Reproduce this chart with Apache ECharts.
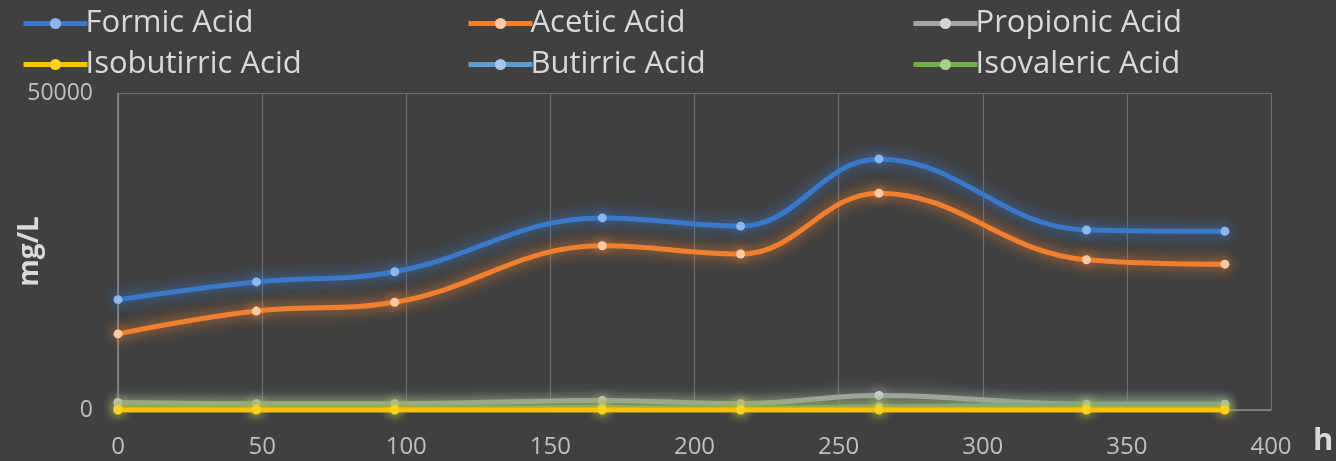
<!DOCTYPE html>
<html>
<head>
<meta charset="utf-8">
<script src="https://cdn.jsdelivr.net/npm/echarts@6/dist/echarts.min.js"></script>
<style>
  html, body { margin: 0; padding: 0; background: #404040; }
  #chart { width: 1336px; height: 461px; }
</style>
</head>
<body>
<div id="chart"></div>
<script>
// Sampling times (h)
const hours = [0, 48, 96, 168, 216, 264, 336, 384];

// Concentrations (mg/L)
const formicAcid      = [17400, 20200, 21800, 30300, 29000, 39600, 28400, 28200];
const aceticAcid      = [12000, 15600, 17000, 25900, 24600, 34200, 23700, 23000];
const propionicAcid   = [1200, 1000, 1000, 1500, 1000, 2300, 900, 900];
const isobutirricAcid = [0, 0, 0, 0, 0, 0, 0, 0];
const butirricAcid    = [300, 300, 300, 400, 300, 500, 800, 800];
const isovalericAcid  = [250, 200, 200, 200, 200, 200, 300, 300];

// Axis tick values
const xTicks = [0, 50, 100, 150, 200, 250, 300, 350, 400];
const yTicks = [0, 50000];

const seriesDefs = [
  { name: 'Formic Acid',      data: formicAcid,      color: '#3a78c9', marker: '#8db6ea', z: 2 },
  { name: 'Acetic Acid',      data: aceticAcid,      color: '#f0802f', marker: '#f9c9a3', z: 2 },
  { name: 'Propionic Acid',   data: propionicAcid,   color: '#a5a5a5', marker: '#d4d4d4', z: 3 },
  { name: 'Isobutirric Acid', data: isobutirricAcid, color: '#ffc000', marker: '#ffd21f', z: 6 },
  { name: 'Butirric Acid',    data: butirricAcid,    color: '#5b9bd5', marker: '#a5c8ea', z: 4 },
  { name: 'Isovaleric Acid',  data: isovalericAcid,  color: '#70ad47', marker: '#a9d18e', z: 5 }
];

const textColor = '#d9d9d9';
const fontFamily = '"Open Sans", "Noto Sans", sans-serif';

function legendColumn(left, names) {
  return {
    orient: 'vertical',
    left: left,
    top: -2,
    itemWidth: 64,
    itemHeight: 14,
    itemGap: 0,
    data: names,
    lineStyle: { width: 5 },
    itemStyle: { borderWidth: 0 },
    textStyle: { color: textColor, fontSize: 31, lineHeight: 41, fontFamily: fontFamily, padding: [0, 0, 0, -7] }
  };
}

const chart = echarts.init(document.getElementById('chart'));
chart.setOption({
  backgroundColor: '#404040',
  animation: false,
  legend: [
    legendColumn(16, ['Formic Acid', 'Isobutirric Acid']),
    legendColumn(461, ['Acetic Acid', 'Butirric Acid']),
    legendColumn(906, ['Propionic Acid', 'Isovaleric Acid'])
  ],
  grid: { left: 118, right: 65, top: 93, bottom: 51, containLabel: false, outerBoundsMode: 'none' },
  xAxis: {
    type: 'value',
    min: xTicks[0],
    max: xTicks[xTicks.length - 1],
    interval: xTicks[1] - xTicks[0],
    name: 'h',
    nameLocation: 'end',
    nameGap: 42,
    nameMoveOverlap: false,
    nameTextStyle: { color: textColor, fontSize: 31, fontWeight: 'bold', fontFamily: fontFamily, verticalAlign: 'top', padding: [16, 0, 0, 0] },
    axisLine: { show: true, lineStyle: { color: '#8c8c8c', width: 1.5 } },
    axisTick: { show: false },
    axisLabel: { color: '#bfbfbf', fontSize: 24, fontFamily: fontFamily, margin: 25 },
    splitLine: { show: true, lineStyle: { color: '#6e6e6e', width: 1.2 } }
  },
  yAxis: {
    type: 'value',
    min: yTicks[0],
    max: yTicks[yTicks.length - 1],
    interval: yTicks[1] - yTicks[0],
    name: 'mg/L',
    nameLocation: 'middle',
    nameRotate: 90,
    nameGap: 74,
    nameMoveOverlap: false,
    nameTextStyle: { color: textColor, fontSize: 28, fontWeight: 'bold', fontFamily: fontFamily },
    axisLine: { show: true, lineStyle: { color: '#8c8c8c', width: 1.5 } },
    axisTick: { show: false },
    axisLabel: { color: '#bfbfbf', fontSize: 23, fontFamily: fontFamily, margin: 25, formatter: v => String(v) },
    splitLine: { show: true, lineStyle: { color: '#6e6e6e', width: 1.2 } }
  },
  series: seriesDefs.map(s => ({
    name: s.name,
    type: 'line',
    smooth: 0.4,
    z: s.z,
    data: hours.map((h, i) => [h, s.data[i]]),
    symbol: 'circle',
    symbolSize: 9,
    itemStyle: { color: s.marker, borderWidth: 0, shadowColor: s.color, shadowBlur: 12 },
    lineStyle: { color: s.color, width: 5, shadowColor: s.color, shadowBlur: 14 },
    color: s.color
  }))
});
</script>
</body>
</html>
